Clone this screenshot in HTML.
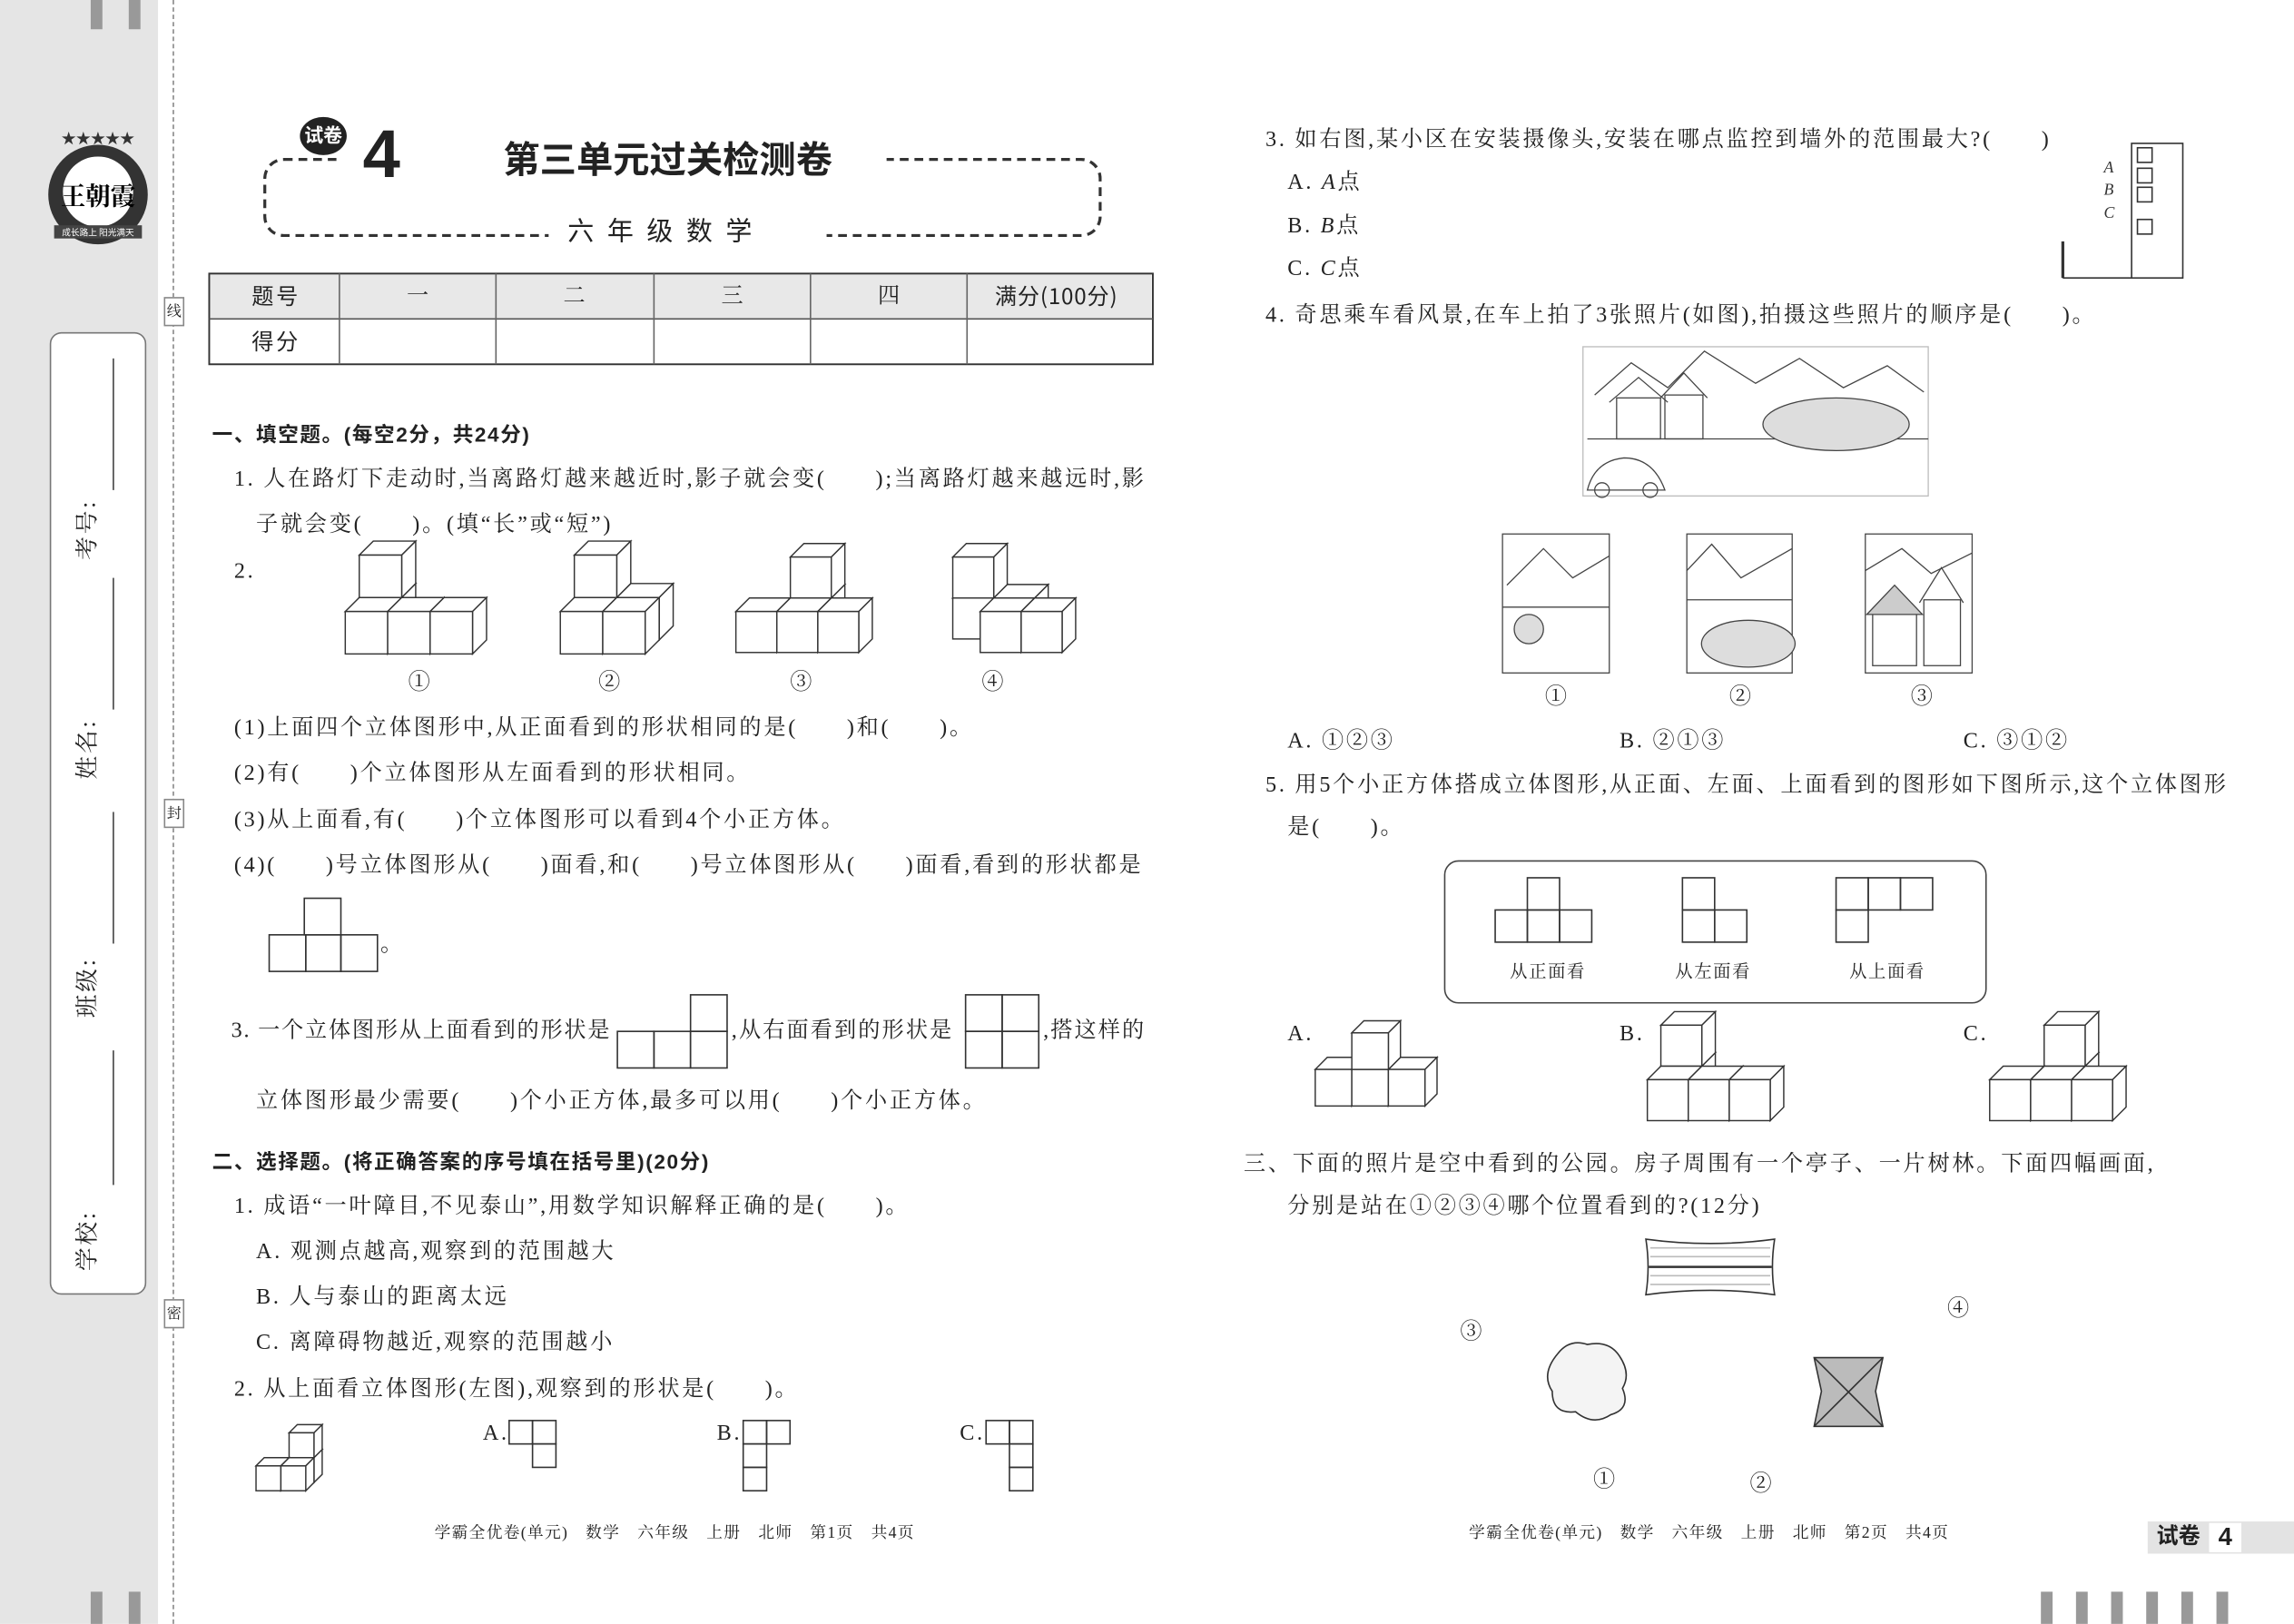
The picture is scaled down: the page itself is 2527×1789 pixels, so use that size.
<!DOCTYPE html>
<html><head><meta charset="utf-8">
<style>
html,body{margin:0;padding:0;background:#fff;}
body{width:2527px;height:1789px;overflow:hidden;position:relative;}
#w{position:absolute;left:0;top:0;width:1568px;height:1110px;transform:scale(1.6116);transform-origin:0 0;font-family:"Liberation Serif","Noto Serif CJK SC",serif;color:#222;}
.t{position:absolute;white-space:nowrap;font-size:15px;line-height:20px;letter-spacing:1.7px;}
.b{font-family:"Liberation Sans","Noto Sans CJK SC",sans-serif;font-weight:bold;}
.a{position:absolute;}
svg{position:absolute;overflow:visible;}
</style></head><body><div id="w">
<div class="a" style="left:0;top:0;width:108px;height:1110px;background:#e5e5e5"></div>
<div class="a" style="left:62px;top:0;width:8px;height:20px;background:#999"></div>
<div class="a" style="left:88px;top:0;width:8px;height:20px;background:#999"></div>
<div class="a" style="left:62px;top:1088px;width:8px;height:22px;background:#999"></div>
<div class="a" style="left:88px;top:1088px;width:8px;height:22px;background:#999"></div>
<div class="a" style="left:118px;top:0;height:1110px;border-left:1px dashed #888"></div>
<div class="a" style="left:112px;top:203px;width:12px;height:18px;border:1px solid #888;background:#fff;font-size:10px;text-align:center">线</div>
<div class="a" style="left:112px;top:546px;width:12px;height:18px;border:1px solid #888;background:#fff;font-size:10px;text-align:center">封</div>
<div class="a" style="left:112px;top:888px;width:12px;height:18px;border:1px solid #888;background:#fff;font-size:10px;text-align:center">密</div>
<svg style="left:25px;top:88px" width="85" height="85" viewBox="0 0 85 85">
<circle cx="42" cy="45" r="34" fill="#333"/><circle cx="42" cy="43" r="24" fill="#fff"/>
<text x="42" y="52" font-size="17" text-anchor="middle" font-family="Noto Serif CJK SC" font-weight="bold">王朝霞</text>
<rect x="12" y="66" width="60" height="9" fill="#444"/>
<text x="42" y="73" font-size="6" fill="#fff" text-anchor="middle" font-family="Noto Sans CJK SC">成长路上 阳光满天</text>
<text x="42" y="10" font-size="10" text-anchor="middle" fill="#333">★★★★★</text>
</svg>
<div class="a" style="left:34px;top:227px;width:64px;height:656px;border:1px solid #777;border-radius:8px;background:#fff"></div>
<div class="a" style="left:77px;top:245px;height:90px;border-left:1px solid #444"></div>
<div class="a" style="left:77px;top:395px;height:90px;border-left:1px solid #444"></div>
<div class="a" style="left:77px;top:555px;height:90px;border-left:1px solid #444"></div>
<div class="a" style="left:77px;top:718px;height:92px;border-left:1px solid #444"></div>
<div class="t" style="left:40px;top:352px;transform:rotate(-90deg);font-size:16px">考号:</div>
<div class="t" style="left:40px;top:502px;transform:rotate(-90deg);font-size:16px">姓名:</div>
<div class="t" style="left:40px;top:665px;transform:rotate(-90deg);font-size:16px">班级:</div>
<div class="t" style="left:40px;top:838px;transform:rotate(-90deg);font-size:16px">学校:</div>

<div class="a" style="left:180px;top:108px;width:569px;height:50px;border:2px dashed #333;border-radius:14px"></div>
<div class="a" style="left:230px;top:100px;width:100px;height:14px;background:#fff"></div>
<div class="a" style="left:322px;top:100px;width:284px;height:14px;background:#fff"></div>
<div class="a" style="left:375px;top:150px;width:190px;height:16px;background:#fff"></div>
<div class="a b" style="left:205px;top:80px;width:32px;height:26px;border-radius:50%;background:#222;color:#fff;font-size:13px;line-height:26px;text-align:center">试卷</div>
<div class="t b" style="left:248px;top:80px;font-size:46px;line-height:50px;letter-spacing:0">4</div>
<div class="t b" style="left:344px;top:94px;font-size:25px;line-height:32px;letter-spacing:0">第三单元过关检测卷</div>
<div class="t" style="left:388px;top:147px;font-size:18px;letter-spacing:9px;font-family:'Noto Sans CJK SC',sans-serif">六年级数学</div>
<div class="a" style="left:143px;top:187px;width:644px;height:31px;background:#e8e8e8"></div>
<svg style="left:0;top:0" width="800" height="260">
<rect x="143" y="187" width="645" height="62" fill="none" stroke="#333" stroke-width="1.2"/>
<line x1="143" y1="218" x2="788" y2="218" stroke="#555"/>
<g stroke="#666"><line x1="232" y1="187" x2="232" y2="249"/><line x1="339" y1="187" x2="339" y2="249"/><line x1="447" y1="187" x2="447" y2="249"/><line x1="554" y1="187" x2="554" y2="249"/><line x1="661" y1="187" x2="661" y2="249"/></g>
</svg>
<div class="t" style="left:172px;top:193px;font-family:'Noto Sans CJK SC'">题号</div>
<div class="t" style="left:278px;top:193px">一</div>
<div class="t" style="left:385px;top:193px">二</div>
<div class="t" style="left:493px;top:193px">三</div>
<div class="t" style="left:600px;top:193px">四</div>
<div class="t" style="left:680px;top:193px;font-family:'Noto Sans CJK SC';letter-spacing:0.5px">满分(100分)</div>
<div class="t" style="left:172px;top:224px;font-family:'Noto Sans CJK SC'">得分</div>

<div class="t b" style="left:145px;top:287px;font-size:14px;letter-spacing:1px">一、填空题。(每空2分，共24分)</div>
<div class="t" style="left:160px;top:318px">1. 人在路灯下走动时,当离路灯越来越近时,影子就会变(　　);当离路灯越来越远时,影</div>
<div class="t" style="left:175px;top:349px">子就会变(　　)。(填“长”或“短”)</div>
<div class="t" style="left:160px;top:381px">2.</div>
<div class="t" style="left:279px;top:457px">①</div><div class="t" style="left:409px;top:457px">②</div><div class="t" style="left:540px;top:457px">③</div><div class="t" style="left:671px;top:457px">④</div>
<div class="t" style="left:160px;top:488px">(1)上面四个立体图形中,从正面看到的形状相同的是(　　)和(　　)。</div>
<div class="t" style="left:160px;top:519px">(2)有(　　)个立体图形从左面看到的形状相同。</div>
<div class="t" style="left:160px;top:551px">(3)从上面看,有(　　)个立体图形可以看到4个小正方体。</div>
<div class="t" style="left:160px;top:582px">(4)(　　)号立体图形从(　　)面看,和(　　)号立体图形从(　　)面看,看到的形状都是</div>
<svg style="left:0;top:0" width="800" height="800"><g fill="none" stroke="#333">
<rect x="208" y="614" width="25" height="25"/><rect x="184" y="639" width="25" height="25"/><rect x="209" y="639" width="24" height="25"/><rect x="233" y="639" width="25" height="25"/>
<rect x="422" y="705" width="25" height="25"/><rect x="447" y="705" width="25" height="25"/><rect x="472" y="705" width="25" height="25"/><rect x="472" y="680" width="25" height="25"/>
<rect x="660" y="680" width="25" height="25"/><rect x="685" y="680" width="25" height="25"/><rect x="660" y="705" width="25" height="25"/><rect x="685" y="705" width="25" height="25"/>
</g></svg>
<div class="t" style="left:260px;top:636px">。</div>
<div class="t" style="left:158px;top:695px;letter-spacing:1.1px">3. 一个立体图形从上面看到的形状是</div>
<div class="t" style="left:500px;top:695px;letter-spacing:1.3px">,从右面看到的形状是</div>
<div class="t" style="left:713px;top:695px;letter-spacing:1.3px">,搭这样的</div>
<div class="t" style="left:175px;top:743px">立体图形最少需要(　　)个小正方体,最多可以用(　　)个小正方体。</div>
<div class="t b" style="left:145px;top:784px;font-size:14px;letter-spacing:1px">二、选择题。(将正确答案的序号填在括号里)(20分)</div>
<div class="t" style="left:160px;top:815px">1. 成语“一叶障目,不见泰山”,用数学知识解释正确的是(　　)。</div>
<div class="t" style="left:175px;top:846px">A. 观测点越高,观察到的范围越大</div>
<div class="t" style="left:175px;top:877px">B. 人与泰山的距离太远</div>
<div class="t" style="left:175px;top:908px">C. 离障碍物越近,观察的范围越小</div>
<div class="t" style="left:160px;top:940px">2. 从上面看立体图形(左图),观察到的形状是(　　)。</div>
<div class="t" style="left:330px;top:970px">A.</div><div class="t" style="left:490px;top:970px">B.</div><div class="t" style="left:656px;top:970px">C.</div>
<svg style="left:0;top:0" width="800" height="1050"><g fill="none" stroke="#333">
<rect x="348" y="971" width="16" height="16"/><rect x="364" y="971" width="16" height="16"/><rect x="364" y="987" width="16" height="16"/>
<rect x="508" y="971" width="16" height="16"/><rect x="524" y="971" width="16" height="16"/><rect x="508" y="987" width="16" height="16"/><rect x="508" y="1003" width="16" height="16"/>
<rect x="674" y="971" width="16" height="16"/><rect x="690" y="971" width="16" height="16"/><rect x="690" y="987" width="16" height="16"/><rect x="690" y="1003" width="16" height="16"/>
</g></svg>
<div class="t" style="left:297px;top:1038px;font-size:11px;letter-spacing:0.8px">学霸全优卷(单元)　数学　六年级　上册　北师　第1页　共4页</div>

<div class="t" style="left:865px;top:86px">3. 如右图,某小区在安装摄像头,安装在哪点监控到墙外的范围最大?(　　)</div>
<div class="t" style="left:880px;top:115px">A. <i>A</i>点</div>
<div class="t" style="left:880px;top:145px">B. <i>B</i>点</div>
<div class="t" style="left:880px;top:174px">C. <i>C</i>点</div>
<svg style="left:0;top:0" width="1568" height="200"><g fill="none" stroke="#333">
<rect x="1457" y="98" width="35" height="92"/>
<rect x="1461" y="101" width="10" height="10"/><rect x="1461" y="115" width="10" height="10"/><rect x="1461" y="128" width="10" height="10"/><rect x="1461" y="150" width="10" height="10"/>
<line x1="1410" y1="165" x2="1410" y2="190" stroke-width="2"/><line x1="1410" y1="190" x2="1457" y2="190"/>
<g font-size="11" font-style="italic" fill="#333" stroke="none"><text x="1438" y="118">A</text><text x="1438" y="133">B</text><text x="1438" y="149">C</text></g>
</g></svg>
<div class="t" style="left:865px;top:206px">4. 奇思乘车看风景,在车上拍了3张照片(如图),拍摄这些照片的顺序是(　　)。</div>
<svg style="left:0;top:0" width="1568" height="480"><g fill="none" stroke="#444" stroke-width="0.8">
<rect x="1082" y="237" width="236" height="102" stroke="#bbb"/>
<polyline points="1090,270 1115,248 1140,265 1165,240 1200,262 1230,245 1260,265 1290,250 1315,268"/>
<line x1="1085" y1="300" x2="1318" y2="300"/>
<rect x="1105" y="272" width="30" height="28"/><polyline points="1100,275 1120,258 1140,275"/>
<rect x="1138" y="270" width="26" height="30"/><polyline points="1135,272 1151,255 1167,272"/>
<ellipse cx="1255" cy="290" rx="50" ry="18" fill="#ddd"/>
<path d="M1085,335 q5,-20 25,-22 q20,0 28,22 z"/><circle cx="1095" cy="335" r="5"/><circle cx="1128" cy="335" r="5"/>
<rect x="1027" y="365" width="73" height="95"/><polyline points="1030,400 1055,375 1075,395 1100,380"/><line x1="1027" y1="415" x2="1100" y2="415"/><circle cx="1045" cy="430" r="10" fill="#ddd"/>
<rect x="1153" y="365" width="72" height="95"/><polyline points="1153,390 1170,372 1190,395 1225,375"/><line x1="1153" y1="410" x2="1225" y2="410"/><ellipse cx="1195" cy="440" rx="32" ry="16" fill="#ddd"/>
<rect x="1275" y="365" width="73" height="95"/><polyline points="1275,390 1300,375 1320,392 1348,378"/><rect x="1280" y="420" width="30" height="35"/><polygon points="1276,420 1295,400 1314,420" fill="#ccc"/><rect x="1315" y="410" width="25" height="45"/><polyline points="1312,412 1327,388 1342,412"/>
</g></svg>
<div class="t" style="left:1056px;top:467px">①</div><div class="t" style="left:1182px;top:467px">②</div><div class="t" style="left:1306px;top:467px">③</div>
<div class="t" style="left:880px;top:497px">A. ①②③</div><div class="t" style="left:1107px;top:497px">B. ②①③</div><div class="t" style="left:1342px;top:497px">C. ③①②</div>
<div class="t" style="left:865px;top:527px">5. 用5个小正方体搭成立体图形,从正面、左面、上面看到的图形如下图所示,这个立体图形</div>
<div class="t" style="left:880px;top:556px">是(　　)。</div>
<div class="a" style="left:987px;top:588px;width:369px;height:96px;border:1px solid #444;border-radius:10px"></div>
<svg style="left:0;top:0" width="1568" height="700"><g fill="none" stroke="#333">
<rect x="1044" y="600" width="22" height="22"/><rect x="1022" y="622" width="22" height="22"/><rect x="1044" y="622" width="22" height="22"/><rect x="1066" y="622" width="22" height="22"/>
<rect x="1150" y="600" width="22" height="22"/><rect x="1150" y="622" width="22" height="22"/><rect x="1172" y="622" width="22" height="22"/>
<rect x="1255" y="600" width="22" height="22"/><rect x="1277" y="600" width="22" height="22"/><rect x="1299" y="600" width="22" height="22"/><rect x="1255" y="622" width="22" height="22"/>
</g></svg>
<div class="t" style="left:1032px;top:654px;font-size:12px;letter-spacing:1px">从正面看</div><div class="t" style="left:1145px;top:654px;font-size:12px;letter-spacing:1px">从左面看</div><div class="t" style="left:1264px;top:654px;font-size:12px;letter-spacing:1px">从上面看</div>
<div class="t" style="left:880px;top:697px">A.</div><div class="t" style="left:1107px;top:697px">B.</div><div class="t" style="left:1342px;top:697px">C.</div>
<div class="t" style="left:850px;top:786px">三、下面的照片是空中看到的公园。房子周围有一个亭子、一片树林。下面四幅画面,</div>
<div class="t" style="left:880px;top:815px">分别是站在①②③④哪个位置看到的?(12分)</div>
<svg style="left:0;top:0" width="1568" height="1050"><g fill="none" stroke="#333">
<path d="M1125,847 q44,6 88,0 q-3,19 0,38 q-44,-6 -88,0 q3,-19 0,-38z"/>
<line x1="1127" y1="866" x2="1211" y2="866" stroke-width="1.5"/>
<g stroke="#bbb"><line x1="1128" y1="853" x2="1210" y2="853"/><line x1="1128" y1="859" x2="1210" y2="859"/><line x1="1128" y1="872" x2="1210" y2="872"/><line x1="1128" y1="878" x2="1210" y2="878"/></g>
<path d="M1065,925 q8,-10 20,-6 q15,-3 22,8 q8,12 2,22 q6,14 -8,18 q-12,8 -24,-2 q-16,2 -16,-14 q-8,-12 4,-26z" fill="#f4f4f4"/>
<polygon points="1240,928 1287,928 1282,951 1287,975 1240,975 1245,951" fill="#bbb"/>
<line x1="1240" y1="928" x2="1287" y2="975"/><line x1="1287" y1="928" x2="1240" y2="975"/>
</g></svg>
<div class="t" style="left:998px;top:901px">③</div><div class="t" style="left:1331px;top:885px">④</div>
<div class="t" style="left:1089px;top:1002px">①</div><div class="t" style="left:1196px;top:1005px">②</div>
<div class="t" style="left:1004px;top:1038px;font-size:11px;letter-spacing:0.8px">学霸全优卷(单元)　数学　六年级　上册　北师　第2页　共4页</div>
<div class="a" style="left:1468px;top:1040px;width:100px;height:22px;background:#e3e3e3"></div>
<div class="t b" style="left:1474px;top:1041px;font-size:15px;letter-spacing:0">试卷</div>
<div class="a b" style="left:1510px;top:1041px;width:22px;height:20px;background:#fff;font-size:17px;line-height:20px;text-align:center">4</div>
<div class="a" style="left:1395px;top:1088px;width:8px;height:22px;background:#999"></div>
<div class="a" style="left:1419px;top:1088px;width:8px;height:22px;background:#999"></div>
<div class="a" style="left:1443px;top:1088px;width:8px;height:22px;background:#999"></div>
<div class="a" style="left:1467px;top:1088px;width:8px;height:22px;background:#999"></div>
<div class="a" style="left:1491px;top:1088px;width:8px;height:22px;background:#999"></div>
<div class="a" style="left:1515px;top:1088px;width:8px;height:22px;background:#999"></div>

<svg id="cubes" style="left:0;top:0" width="1568" height="1110"></svg>
</div>
<script>
var g=document.getElementById('cubes'),h='';
function fig(ox,oy,s,list){var d=s*0.33;
 list.sort(function(a,b){return b[2]-a[2]||a[1]-b[1]||a[0]-b[0];});
 list.forEach(function(c){var x=ox+c[0]*s+c[2]*d,y=oy-c[1]*s-c[2]*d;
  h+='<g fill="#fff" stroke="#333" stroke-width="0.9">';
  h+='<polygon points="'+x+','+y+' '+(x+d)+','+(y-d)+' '+(x+s+d)+','+(y-d)+' '+(x+s)+','+y+'"/>';
  h+='<polygon points="'+(x+s)+','+y+' '+(x+s+d)+','+(y-d)+' '+(x+s+d)+','+(y+s-d)+' '+(x+s)+','+(y+s)+'"/>';
  h+='<rect x="'+x+'" y="'+y+'" width="'+s+'" height="'+s+'"/></g>';});}
fig(236,418,29,[[0,0,1],[0,1,1],[0,0,0],[1,0,0],[2,0,0]]);
fig(383,418,29,[[0,0,1],[0,1,1],[1,0,1],[0,0,0],[1,0,0]]);
fig(503,418,28,[[1,0,1],[1,1,1],[0,0,0],[1,0,0],[2,0,0]]);
fig(642,418,28,[[0,0,1],[0,1,1],[1,0,1],[1,0,0],[2,0,0]]);
fig(175,1002,17,[[1,0,1],[1,1,1],[0,0,0],[1,0,0]]);
fig(899,731,25,[[1,1,0],[0,0,0],[1,0,0],[2,0,0]]);
fig(1126,738,28,[[0,0,1],[0,1,1],[0,0,0],[1,0,0],[2,0,0]]);
fig(1360,738,28,[[1,0,1],[1,1,1],[0,0,0],[1,0,0],[2,0,0]]);
g.innerHTML=h;
</script>
</body></html>
